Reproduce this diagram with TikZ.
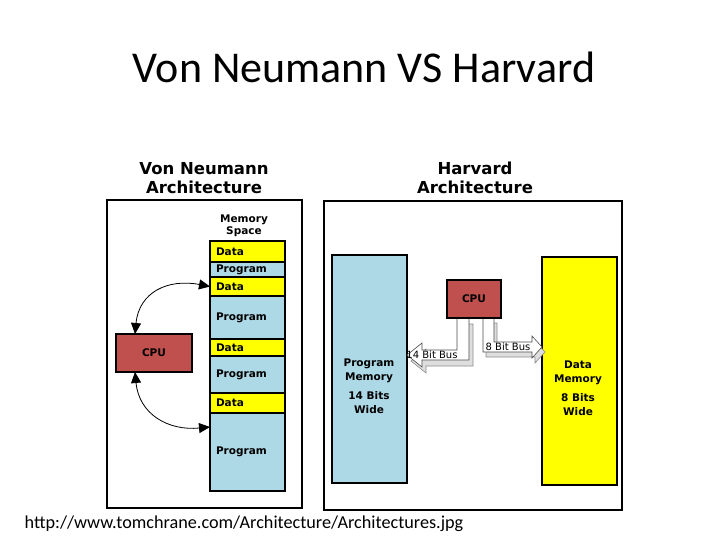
\documentclass[tikz,border=0pt]{standalone}
\usepackage{fontspec}
\setmainfont{DejaVu Sans}
\newfontfamily\slidefont{Carlito}
\usepackage{tikz}
\usetikzlibrary{positioning,arrows.meta,calc}
\definecolor{memb}{RGB}{173,216,230}
\definecolor{memy}{RGB}{255,255,0}
\definecolor{cpur}{RGB}{192,80,77}
\definecolor{busg}{RGB}{222,222,222}
\newcommand{\lbl}{\fontsize{10.5}{13.5}\selectfont\bfseries}
\tikzset{
	every node/.style = { align = center, inner sep=0pt, outer sep=0pt },
	panel/.style = { draw, line width=2pt },
	head/.style = { font=\fontsize{16.5}{19}\selectfont\bfseries },
	seg/.style = { draw, line width=1.5pt, minimum width=75pt, text width=63pt, inner xsep=6pt, align=left, font=\lbl },
	data/.style = { seg, fill=memy },
	prog/.style = { seg, fill=memb },
	cpu/.style = { draw, line width=1.2pt, fill=cpur, font=\lbl },
	mem/.style = { draw, line width=1.5pt, minimum width=75pt, minimum height=228pt },
	memtxt/.style = { font=\lbl },
	bus/.style = { draw=black!70, line width=0.6pt, fill=white },
	busdep/.style = { draw=black!45, line width=0.6pt, fill=busg },
	buslbl/.style = { font=\fontsize{10}{12}\selectfont },
	link/.style = { {Triangle[length=11pt,width=10pt]}-{Triangle[length=11pt,width=10pt]}, line width=0.8pt },
}

\begin{document}
\begin{tikzpicture}[x=1pt,y=-1pt]
\useasboundingbox (0,0) rectangle (728,546);

\node (title) [anchor=base,font=\slidefont\fontsize{44}{50}\selectfont] at (364,82) {Von Neumann VS Harvard};

% von neumann side
\node (vn)    [panel,minimum width=195pt,minimum height=308pt] at (204.5,354) {};
\node (vnhd)  [head] at (204,178) {Von Neumann \\ Architecture};
\node (spc)   [font=\fontsize{10.5}{12.5}\selectfont\bfseries] at (244,226) {Memory \\ Space};

\node (d1)    [data,minimum height=21pt,anchor=north] at (247.5,241) {Data};
\node (p1)    [prog,minimum height=15pt,below=0pt of d1] {Program};
\node (d2)    [data,minimum height=19pt,below=0pt of p1] {Data};
\node (p2)    [prog,minimum height=43pt,below=0pt of d2] {Program};
\node (d3)    [data,minimum height=17pt,below=0pt of p2] {Data};
\node (p3)    [prog,minimum height=37pt,below=0pt of d3] {Program};
\node (d4)    [data,minimum height=20pt,below=0pt of p3] {Data};
\node (p4)    [prog,minimum height=78pt,below=0pt of d4] {Program};

\node (cpuv)  [cpu,minimum width=76pt,minimum height=38pt] at (154,353) {CPU};
\draw[link] (cpuv.135) .. controls +(4,-42) and +(-42,-8) .. (d2.west);
\draw[link] (cpuv.225) .. controls +(4,42) and +(-42,4) .. ($(p4.north west)+(0,14)$);

% harvard side
\node (hv)    [panel,minimum width=298pt,minimum height=309pt] at (473,355.5) {};
\node (hvhd)  [head] at (475,178) {Harvard \\ Architecture};

\node (pmem)  [mem,fill=memb] at (369.5,369) {};
\node (pmtx)  [memtxt] at (369,386) {Program \\ Memory \\[6pt] 14 Bits \\ Wide};
\node (dmem)  [mem,fill=memy] at (579.5,371) {};
\node (dmtx)  [memtxt] at (578,388) {Data \\ Memory \\[6pt] 8 Bits \\ Wide};

\node (cpuh)  [cpu,minimum width=54pt,minimum height=38pt] at (474,299) {};

\foreach \st/\dx/\dy in {busdep/4/6, bus/0/0} {
	\draw[\st] ($(cpuh.south west)+(10+\dx,\dy)$) -- ++(0,32) -- ++(-35,0) -- ++(0,-7) -- ++(-15,12)
		-- ++(15,12) -- ++(0,-7) -- ++(47,0) -- ++(0,-42) -- cycle;
}
\foreach \st/\dx/\dy in {busdep/3/5, bus/0/0} {
	\draw[\st] ($(cpuh.south west)+(36+\dx,\dy)$) -- ++(0,34) -- ++(49,0) -- ++(0,6) -- ++(10,-11)
		-- ++(-10,-11) -- ++(0,6) -- ++(-38,0) -- ++(0,-24) -- cycle;
}
\node (cpuh)  [cpu,minimum width=54pt,minimum height=38pt] at (474,299) {CPU};
\node (b14)   [buslbl] at (432,355) {14 Bit Bus};
\node (b8)    [buslbl] at (508,347) {8 Bit Bus};

\node (src)   [anchor=base,font=\slidefont\fontsize{18.2}{22}\selectfont] at (244,528) {http://www.tomchrane.com/Architecture/Architectures.jpg};

\end{tikzpicture}
\end{document}
